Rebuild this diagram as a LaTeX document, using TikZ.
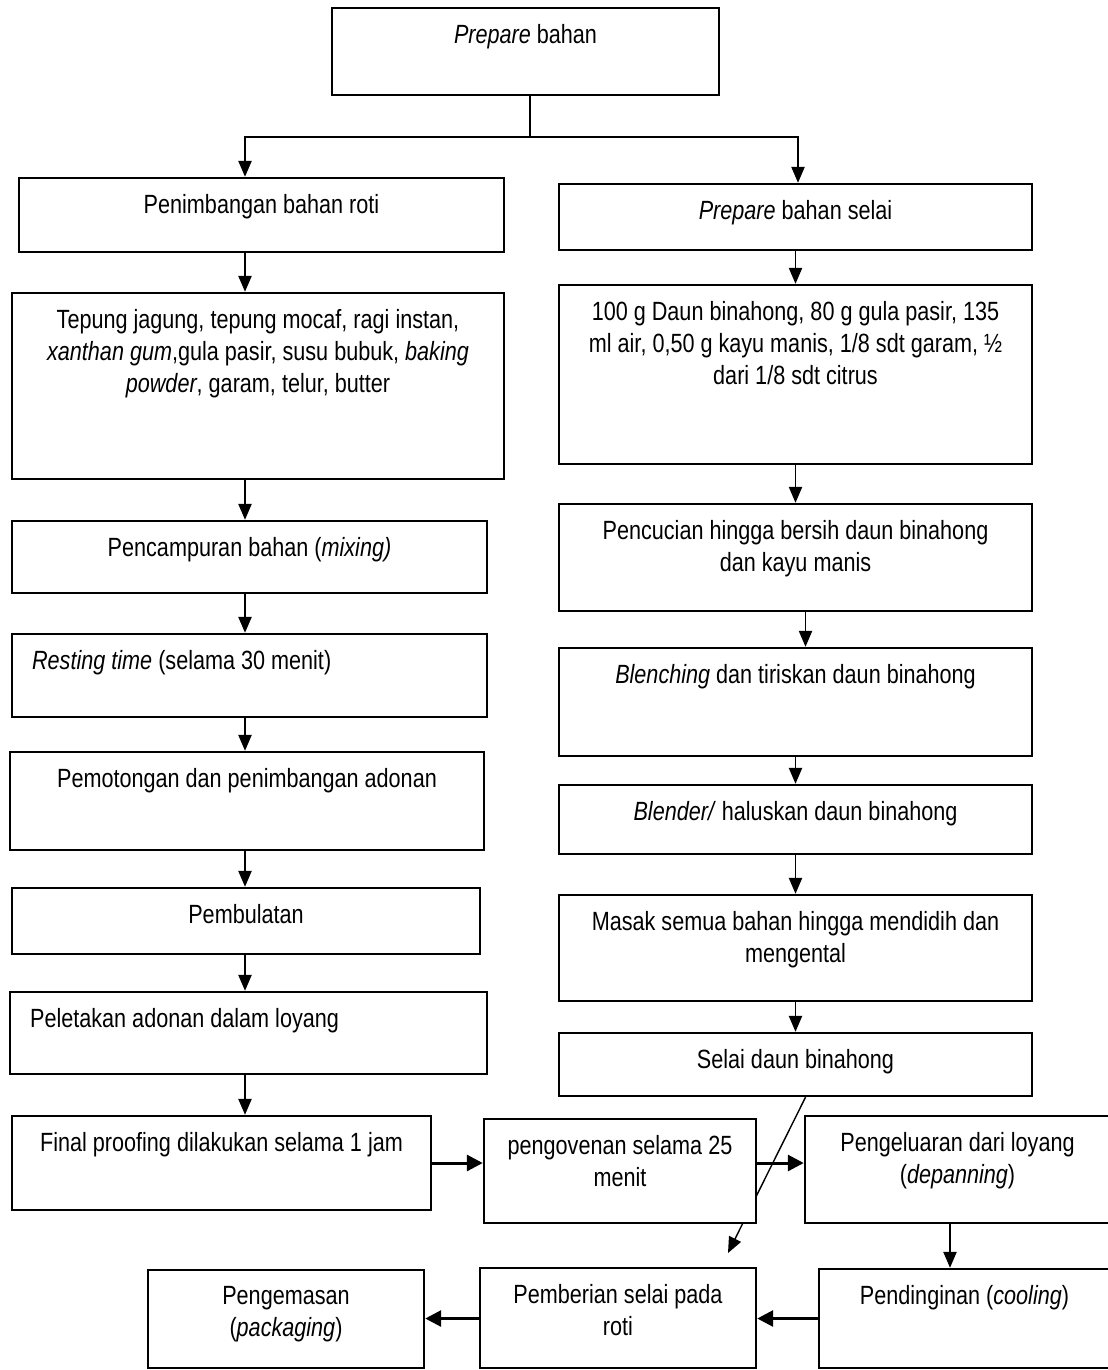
\documentclass[tikz,border=0pt]{standalone}
\usepackage{fontspec}
\setmainfont{Liberation Sans}[FakeStretch=0.82]
\usepackage{tikz}
\usetikzlibrary{arrows.meta,positioning,calc,backgrounds}

\begin{document}
\begin{tikzpicture}[
  font=\fontsize{15pt}{18.2pt}\selectfont,
  box/.style={draw,line width=1.4pt,fill=white,inner sep=0pt},
  txt/.style={label={[anchor=north,yshift=-0.34cm,inner sep=0pt,align=center]north:{#1}}},
  txtl/.style={label={[anchor=north west,xshift=0.42cm,yshift=-0.34cm,inner sep=0pt]north west:{#1}}},
  arr/.style={-{Triangle[length=9pt,width=7.5pt]},line width=0.8pt},
  harr/.style={-{Triangle[length=9pt,width=9pt]},line width=1.7pt}
]
\useasboundingbox (0,0) rectangle (22.14,-27.4);
% start
\node[box,minimum width=7.74cm,minimum height=1.74cm,txt={\textit{Prepare} bahan}] (prep) at (10.51,-1.03) {};
% roti
\node[box,minimum width=9.70cm,minimum height=1.48cm,txt={Penimbangan bahan roti}] (timbang) at (5.23,-4.30) {};
\node[box,minimum width=9.84cm,minimum height=3.72cm,txt={Tepung jagung, tepung mocaf, ragi instan,\\\textit{xanthan gum},gula pasir, susu bubuk, \textit{baking}\\\textit{powder}, garam, telur, butter}] (tepung) at (5.16,-7.72) {};
\node[box,minimum width=9.50cm,minimum height=1.44cm,txt={Pencampuran bahan (\textit{mixing)}}] (campur) at (4.99,-11.14) {};
\node[box,minimum width=9.50cm,minimum height=1.66cm,txtl={\textit{Resting time} (selama 30 menit)}] (rest) at (4.99,-13.51) {};
\node[box,minimum width=9.48cm,minimum height=1.96cm,txt={Pemotongan dan penimbangan adonan}] (potong) at (4.94,-16.02) {};
\node[box,minimum width=9.36cm,minimum height=1.32cm,txt={Pembulatan}] (bulat) at (4.92,-18.42) {};
\node[box,minimum width=9.54cm,minimum height=1.64cm,txtl={Peletakan adonan dalam loyang}] (letak) at (4.97,-20.66) {};
% selai
\node[box,minimum width=9.46cm,minimum height=1.32cm,txt={\textit{Prepare} bahan selai}] (selaiA) at (15.91,-4.34) {};
\node[box,minimum width=9.46cm,minimum height=3.58cm,txt={100 g Daun binahong, 80 g gula pasir, 135\\ml air, 0,50 g kayu manis, 1/8 sdt garam, ½\\dari 1/8 sdt citrus}] (bahanA) at (15.91,-7.49) {};
\node[box,minimum width=9.46cm,minimum height=2.14cm,txt={Pencucian hingga bersih daun binahong\\dan kayu manis}] (cuci) at (15.91,-11.15) {};
\node[box,minimum width=9.46cm,minimum height=2.16cm,txt={\textit{Blenching} dan tiriskan daun binahong}] (blench) at (15.91,-14.04) {};
\node[box,minimum width=9.46cm,minimum height=1.38cm,txt={\textit{Blender/} haluskan daun binahong}] (blender) at (15.91,-16.39) {};
\node[box,minimum width=9.46cm,minimum height=2.12cm,txt={Masak semua bahan hingga mendidih dan\\mengental}] (masak) at (15.91,-18.96) {};
\node[box,minimum width=9.46cm,minimum height=1.26cm,txt={Selai daun binahong}] (selai) at (15.91,-21.29) {};
% akhir
\node[box,minimum width=8.38cm,minimum height=1.88cm,txt={Final proofing dilakukan selama 1 jam}] (proof) at (4.43,-23.26) {};
\node[box,minimum width=5.44cm,minimum height=2.08cm,txt={pengovenan selama 25\\menit}] (oven) at (12.40,-23.42) {};
\node[box,minimum width=6.10cm,minimum height=2.14cm,txt={Pengeluaran dari loyang\\(\textit{depanning})}] (keluar) at (19.15,-23.39) {};
\node[box,minimum width=5.82cm,minimum height=1.98cm,txt={Pendinginan (\textit{cooling})}] (dingin) at (19.29,-26.37) {};
\node[box,minimum width=5.52cm,minimum height=2.00cm,txt={Pemberian selai pada\\roti}] (beri) at (12.36,-26.36) {};
\node[box,minimum width=5.52cm,minimum height=1.96cm,txt={Pengemasan\\(\textit{packaging})}] (kemas) at (5.72,-26.38) {};
% cabang
\coordinate (split) at (10.60,-2.74);
\coordinate (spine) at (4.90,0);
\draw[line width=0.8pt] (prep.south -| split) -- (split);
\draw[arr] (split) -| (timbang.north -| spine);
\draw[arr] (split) -| ([xshift=0.05cm]selaiA.north);
\foreach \a/\b in {timbang/tepung,tepung/campur,campur/rest,rest/potong,potong/bulat,bulat/letak,letak/proof}
  \draw[arr] (\a.south -| spine) -- (\b.north -| spine);
\foreach \a/\b in {selaiA/bahanA,bahanA/cuci,blench/blender,blender/masak,masak/selai}
  \draw[arr] (\a.south) -- (\b.north);
\draw[arr] ([xshift=0.2cm]cuci.south) -- ([xshift=0.2cm]blench.north);
% baris bawah
\draw[harr] (proof.east) -- (proof.east -| oven.west);
\draw[harr] (proof.east -| oven.east) -- (proof.east -| keluar.west);
\draw[arr] ([xshift=-0.15cm]keluar.south) -- ([xshift=-0.15cm]keluar.south |- dingin.north);
\draw[harr] (dingin.west) -- (dingin.west -| beri.east);
\draw[harr] (dingin.west -| beri.west) -- (dingin.west -| kemas.east);
\coordinate (jatuh) at (14.56,-25.06);
\begin{scope}[on background layer]
\draw[arr] ([xshift=0.2cm]selai.south) -- (jatuh);
\end{scope}
\end{tikzpicture}
\end{document}
